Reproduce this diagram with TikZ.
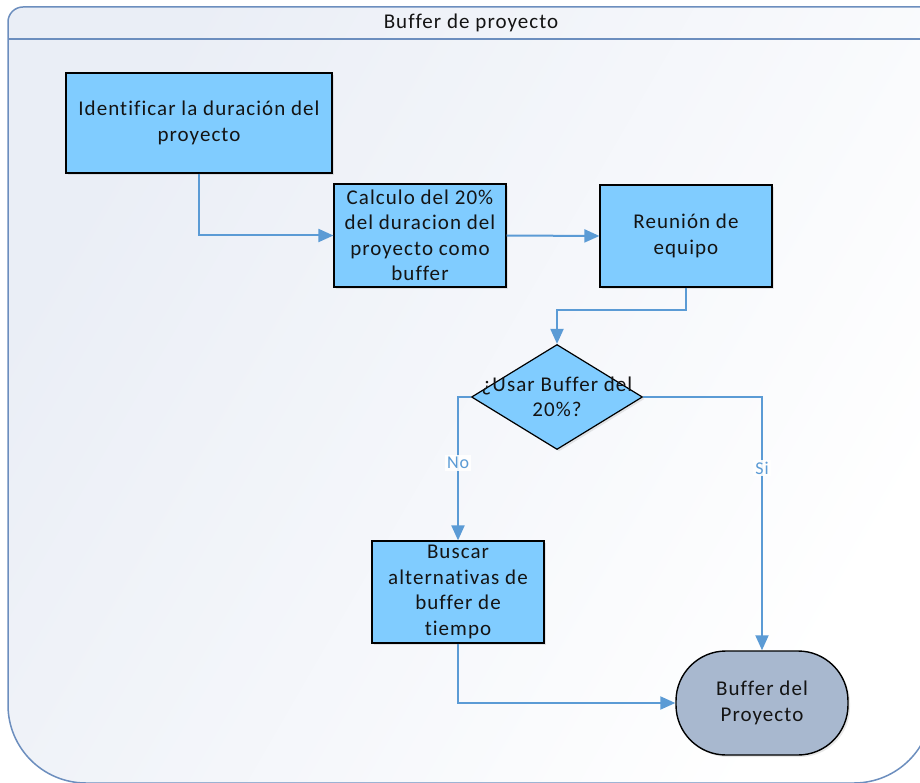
\documentclass[tikz,border=0pt]{standalone}
\usepackage{fontspec}
\setmainfont{Carlito}[LetterSpace=5, Ligatures=NoCommon]
\usetikzlibrary{shapes.geometric,arrows.meta,shadows}

\definecolor{boxfill}{RGB}{128,204,255}
\definecolor{termfill}{RGB}{168,184,207}
\definecolor{linkblue}{RGB}{91,155,213}
\definecolor{framecol}{RGB}{108,142,190}
\definecolor{bgtint}{RGB}{234,238,246}
\definecolor{inkcol}{RGB}{20,20,20}

\tikzset{
  boxfont/.style={font=\fontsize{21}{25.5}\selectfont, text=inkcol},
  flowbox/.style={boxfont, draw=black, line width=1.2pt, fill=boxfill,
    inner sep=0pt, minimum width=172pt, minimum height=102pt, align=center,
    drop shadow={shadow xshift=2pt, shadow yshift=-2pt, opacity=0.18}},
  decision/.style={diamond, draw=black, line width=1.2pt, fill=boxfill,
    inner sep=0pt, minimum width=171pt, minimum height=105pt,
    drop shadow={shadow xshift=2pt, shadow yshift=-2pt, opacity=0.18}},
  terminal/.style={boxfont, draw=black, line width=1.4pt, fill=termfill,
    rounded corners=50pt, inner sep=0pt, minimum width=172pt,
    minimum height=104pt, align=center,
    drop shadow={shadow xshift=2pt, shadow yshift=-2pt, opacity=0.18}},
  flow/.style={draw=linkblue, line width=2pt,
    -{Triangle[length=15pt,width=13pt]}},
  branch/.style={font=\fontsize{18}{20}\selectfont, text=linkblue,
    fill=white, fill opacity=0.9, text opacity=1, inner sep=2pt},
}

\begin{document}
\begin{tikzpicture}[x=1pt, y=-1pt]
  \useasboundingbox (0,0) rectangle (920,783);

  % swimlane frame with shaded body
  \path[left color=bgtint, right color=white, shading angle=60]
    (932,7) -- (23,7) arc[start angle=270, end angle=180, radius=15]
    -- (8,705) arc[start angle=180, end angle=90, radius=78]
    -- (854,783) arc[start angle=90, end angle=0, radius=78] -- cycle;
  \draw[framecol, line width=1.5pt]
    (932,7) -- (23,7) arc[start angle=270, end angle=180, radius=15]
    -- (8,705) arc[start angle=180, end angle=90, radius=78]
    -- (854,783) arc[start angle=90, end angle=0, radius=78] -- cycle;
  \draw[framecol, line width=1.5pt] (8,39) -- (932,39);
  \node[font=\fontsize{21}{24}\selectfont, text=inkcol] (title) at (471,23) {Buffer de proyecto};

  % process steps
  \node[flowbox, minimum width=266pt, minimum height=100pt] (b1) at (199,123)
    {Identificar la duración del\\proyecto};
  \node[flowbox, minimum height=103pt] (b2) at (420,235.5)
    {Calculo del 20\%\\del duracion del\\proyecto como\\buffer};
  \node[flowbox] (b3) at (686,236) {Reunión de\\equipo};
  \node[decision, label={[boxfont, align=center]center:¿Usar Buffer del\\20\%?}] (d) at (557,397) {};
  \node[flowbox] (b4) at (458,592)
    {Buscar\\alternativas de\\buffer de\\tiempo};
  \node[terminal] (t) at (762,703) {Buffer del\\Proyecto};

  % connectors
  \draw[flow] (b1.south) |- (b2.west);
  \draw[flow] (b2.east) -- (b3.west);
  \draw[flow] (b3.south) -- ++(0,22) -| (d.north);
  \draw[flow] (d.west) -| node[branch, pos=0.73] {No} (b4.north);
  \draw[flow] (d.east) -| node[branch, pos=0.64] {Si} (t.north);
  \draw[flow] (b4.south) |- (t.west);
\end{tikzpicture}
\end{document}
